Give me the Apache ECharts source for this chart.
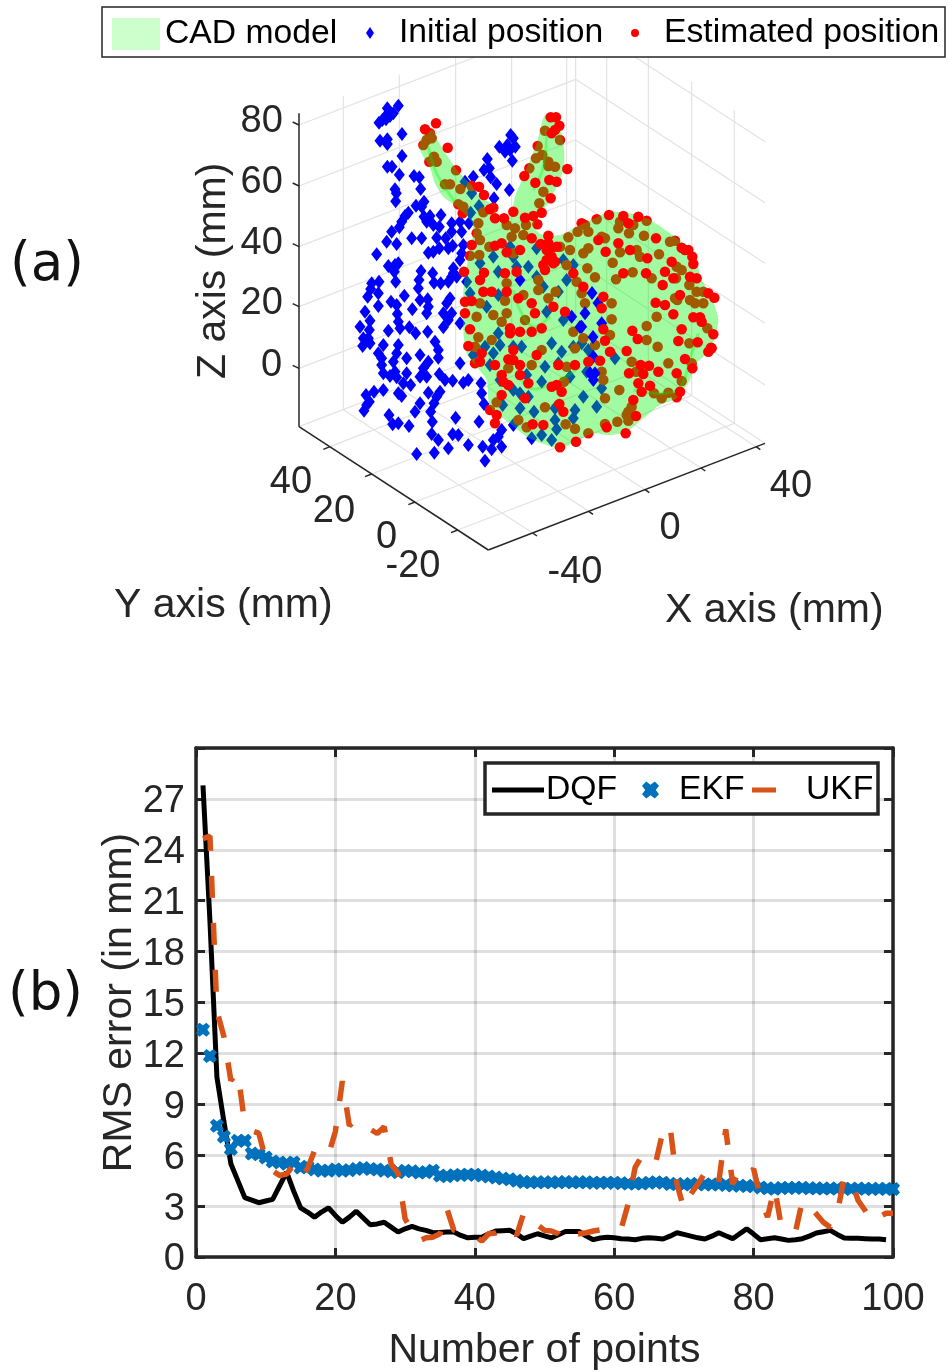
<!DOCTYPE html>
<html>
<head>
<meta charset="utf-8">
<title>Bunny registration</title>
<script src="https://cdn.jsdelivr.net/npm/echarts@6/dist/echarts.min.js"></script>
<style>
  html, body { margin: 0; padding: 0; background: #fff; }
  #chart { width: 948px; height: 1372px; }
</style>
</head>
<body>
<div id="chart"></div>
<script>
const initialBehind = [[355,47],[322,55],[340,70],[330,78],[318,88],[297,98],[307,90],[322,72],[366,132],[300,152],[322,148],[322,162],[366,198],[322,230],[336,230],[358,254],[402,258],[418,262],[422,297],[345,298],[349,310],[347,334],[432,335],[408,347],[425,350],[385,368],[375,378],[365,395],[358,412],[335,425],[350,462],[320,455],[395,445],[425,445],[290,493],[432,380],[450,378],[483,375],[440,395],[460,405],[478,410],[515,400],[540,395],[515,425],[545,425],[497,445],[470,443],[518,467],[505,475],[445,488],[460,485],[478,475],[550,465],[545,490],[325,528],[345,525],[355,520],[343,545],[347,575],[423,543],[458,550],[462,578],[482,580],[520,535],[515,560],[505,575],[530,560],[275,580],[297,575],[417,570],[415,595],[443,628],[272,597],[295,610],[263,620],[295,648],[373,617],[333,635],[350,645],[397,658],[420,630],[445,650],[510,625],[500,640],[490,670],[515,670],[505,690],[255,665],[352,672],[440,670],[355,695],[270,692],[240,710],[268,720],[325,722],[360,715],[388,712],[407,730],[443,725],[490,712],[540,700],[265,745],[250,745],[248,768],[270,760],[310,765],[355,765],[465,755],[295,790],[350,790],[420,795],[475,780],[475,803],[305,805],[340,815],[380,805],[445,815],[430,835],[345,845],[380,850],[305,825],[310,850],[330,858],[350,862],[370,880],[420,860],[440,860],[392,885],[478,852],[495,870],[518,872],[540,820],[550,878],[565,870],[603,880],[282,905],[310,900],[258,915],[268,935],[260,945],[252,962],[355,910],[365,918],[445,908],[480,905],[470,920],[462,940],[420,940],[605,910],[612,942],[405,965],[452,965],[327,975],[457,995],[338,1003],[355,1000],[387,1008],[527,983],[597,995],[455,1032],[475,1050],[518,1033],[535,1035],[565,1065],[505,1075],[608,1070],[635,1078],[640,1050],[655,1040],[665,1020],[665,1070],[410,1092],[463,1088],[615,1112],[692,135],[700,145],[658,170],[682,165],[706,170],[675,185],[690,180],[697,212],[622,207],[612,240],[628,235],[632,262],[650,282],[580,260],[688,300],[642,325],[555,275],[575,310],[597,348],[572,368],[567,400],[540,510],[520,550],[640,500],[600,520],[655,545],[710,530],[745,530],[770,560],[620,650],[560,575],[570,610],[790,590],[835,605],[860,570],[880,525],[850,510],[700,500],[770,475],[690,470],[655,615],[800,665],[850,690],[655,730],[725,770],[660,765],[615,770],[640,790],[700,770],[815,760],[845,785],[880,770],[905,760],[925,780],[1005,805],[580,795],[630,825],[795,830],[835,820],[870,860],[920,845],[785,875],[740,855],[660,870],[700,900],[720,910],[965,895],[745,920],[720,955],[762,965],[825,955],[885,960],[880,985],[910,920],[950,950],[825,990],[830,1018],[815,1050],[785,1035],[755,1045],[700,1005],[668,945]];
const initialFront = [[936,609],[954,639],[900,711],[939,741],[930,849],[720,570],[905,710],[875,680],[915,670],[965,700],[945,850],[940,870],[940,800]];
const estimatedBehind = [[450,130],[455,145],[440,150],[430,165],[462,200],[448,215],[470,215],[528,241],[495,283],[510,283],[541,297],[575,288],[535,343],[550,350],[548,370],[610,367],[640,353],[795,122],[840,150],[773,168],[787,195],[768,205],[805,215],[805,228],[825,230],[748,235],[790,305],[778,340],[1100,392],[950,388],[905,400],[915,405],[1020,395],[1015,415],[1060,405],[1047,430],[1092,437],[1170,455],[1185,452],[893,425],[865,442],[925,425],[965,440],[975,445],[1070,480],[1020,487],[1080,500],[1137,493],[1225,480],[1190,530],[1205,540],[998,518],[922,535],[945,562],[1058,547],[1008,568],[1115,565],[1188,565],[1228,585],[1250,605],[1270,605],[1185,625],[1192,630],[1230,630],[1245,640],[1270,640],[1130,680],[1100,708],[1282,715],[1100,750],[1228,760],[1133,770],[1295,775],[1235,820],[1165,820],[1055,815],[1068,845],[1205,873],[1018,900],[1122,910],[1165,908],[1190,922],[1145,925],[1055,950],[1045,965],[1040,975],[1045,992],[1012,995],[975,1002],[925,1030],[885,1016],[857,1003],[795,952],[740,1012],[975,925],[600,450],[590,430],[595,400],[680,405],[705,415],[695,440],[772,403],[738,405],[730,435],[870,480],[860,525],[840,470],[910,490],[925,475],[628,470],[598,495],[570,497],[700,490],[775,570],[890,575],[905,610],[805,625],[827,605],[775,600],[730,615],[680,580],[600,640],[590,680],[640,675],[680,670],[675,632],[735,690],[915,640],[995,640],[995,688],[990,735],[910,745],[880,725],[665,695],[595,742],[635,750],[585,770],[585,820],[685,835],[755,825],[785,780],[860,830],[965,845],[970,870],[885,775],[945,765],[852,875],[650,937],[630,960],[645,1000],[715,990]];
const estimatedFront = [[468,100],[435,118],[503,173],[597,290],[612,315],[630,358],[812,82],[828,82],[838,107],[825,120],[815,130],[862,237],[733,258],[766,278],[808,270],[830,275],[812,325],[987,375],[1075,380],[955,450],[1015,460],[1050,480],[1102,505],[1128,445],[1215,480],[1237,500],[1240,522],[977,485],[1030,550],[1155,545],[1180,565],[1098,550],[1250,565],[1230,560],[1148,585],[1127,638],[1155,645],[1180,673],[1200,615],[1303,623],[1285,610],[1260,682],[1240,682],[1265,695],[1205,718],[1300,733],[1057,722],[1073,747],[1195,753],[1253,757],[1293,773],[1285,785],[1215,807],[1237,835],[1040,783],[1082,825],[1107,827],[1047,850],[1090,852],[1135,845],[1190,850],[1075,880],[1110,887],[1085,905],[1200,905],[1060,930],[1068,978],[980,1012],[1037,1030],[888,1055],[965,655],[970,718],[975,752],[790,1005],[758,1003],[960,812],[840,1072],[838,942],[850,965],[552,545],[575,465],[612,548],[600,570],[555,635],[575,633],[555,670],[570,718],[565,768],[645,825],[600,815],[690,730],[690,715],[685,885],[670,875],[720,825],[700,810],[815,500],[810,480],[820,520],[830,470],[755,445],[782,462],[830,885],[845,905],[755,640],[765,670],[880,550],[910,590],[745,880],[720,855],[825,515],[805,437],[800,480],[800,510],[790,525],[795,540],[805,460],[680,487],[720,480],[645,467],[665,460],[645,385],[672,385],[700,365],[735,383],[760,378],[785,368],[675,550],[710,545],[610,605],[635,605],[680,605],[715,625],[820,650],[855,665],[785,715],[720,725],[755,725],[605,790],[700,780],[685,808],[770,795],[835,825],[885,825],[925,815],[970,620],[990,785],[665,855],[815,890],[665,915],[650,975],[735,925],[1030,378],[1045,400],[1205,473],[1175,515]];
const bunnyOutline = [[418,170],[430,135],[458,120],[475,155],[500,195],[535,245],[570,280],[600,320],[640,345],[655,380],[690,380],[705,320],[730,260],[770,160],[795,75],[830,80],[845,130],[853,190],[850,240],[830,290],[805,340],[780,370],[760,410],[790,435],[840,435],[890,410],[945,385],[985,365],[1050,370],[1110,390],[1170,430],[1215,465],[1250,520],[1265,570],[1290,610],[1305,650],[1315,690],[1305,740],[1290,780],[1245,825],[1230,870],[1190,925],[1140,945],[1090,985],[1040,1025],[985,1035],[940,1030],[880,1060],[840,1075],[800,1065],[740,1040],[690,1000],[630,950],[620,870],[590,830],[560,790],[550,720],[550,600],[565,500],[580,430],[575,395],[530,350],[490,320],[465,280],[450,235],[430,200]];
const bunnyCreases = [
  [[445,170],[470,250],[525,335]],
  [[800,120],[790,230],[760,300]],
  [[700,600],[720,660],[760,710],[810,680]],
  [[1255,730],[1235,790],[1190,900],[1060,900]],
  [[900,830],[820,880],[740,890],[700,780]]
];

// box corners, tick feet and tick labels of the 3D view
const boxHeight = 940;
const zTickFeet = [105, 288, 470, 650, 835];
const zTickLabels = ['80', '60', '40', '20', '0'];
const yTickFeet = [[150,1070],[275,1152],[405,1236],[533,1320]];
const yTickLabels = [['40',33,1179],['20',162,1266],['0',320,1344],['-20',399,1431]];
const xTickFeet = [[758,1329],[926,1264],[1095,1199],[1263,1134],[1428,1070]];
const xTickLabels = [['-40',885,1449],['0',1170,1317],['40',1533,1189]];
const axisEdges = [[57,70,57,1010],[57,1010,625,1380],[625,1380,1455,1060]];

// panel (b)
const pointCounts = Array.from({ length: 100 }, (_, i) => i + 1);
const dqfError = [27.8,19.8,10.6,8,5.5,4.5,3.5,3.35,3.2,3.3,3.4,4.2,5,3.9,2.9,2.65,2.35,2.65,2.9,2.45,2.05,2.35,2.7,2.3,1.9,1.95,2.05,1.76,1.47,1.66,1.8,1.66,1.57,1.43,1.45,1.47,1.47,1.27,1.13,1.17,1.17,1.37,1.53,1.55,1.57,1.37,1.08,1.23,1.37,1.25,1.13,1.31,1.5,1.5,1.5,1.23,1.02,1.12,1.17,1.13,1.08,1.06,1.02,1.1,1.13,1.1,1.06,1.23,1.43,1.33,1.23,1.13,1.06,1.23,1.43,1.25,1.08,1.37,1.66,1.35,1.02,1.08,1.13,1.06,0.98,1.02,1.08,1.23,1.41,1.49,1.57,1.33,1.12,1.1,1.1,1.08,1.06,1.06,1.02];
const ekfError = [13.4,11.84,7.73,7.1,6.36,6.85,6.85,6.1,6.05,5.87,5.63,5.57,5.5,5.57,5.28,5.32,5.16,5.09,5.09,5.16,5.09,5.12,5.18,5.24,5.18,5.16,5.09,5.05,5,5.08,5.05,4.98,5,5.09,4.8,4.76,4.82,4.84,4.85,4.85,4.8,4.75,4.68,4.62,4.58,4.5,4.42,4.4,4.4,4.4,4.4,4.4,4.42,4.4,4.4,4.4,4.38,4.38,4.38,4.38,4.35,4.33,4.33,4.33,4.38,4.4,4.38,4.3,4.3,4.27,4.3,4.3,4.28,4.28,4.28,4.25,4.22,4.2,4.18,4.17,4.1,4.05,4.02,4.07,4.07,4.08,4.08,4.05,4.05,4.03,4.03,4.03,4.02,4.01,4.03,4.02,4.01,4.02,4.01,4.01];
const ukfError = [24.66,24.8,14.5,13,10.4,10.9,7.83,7.44,7.3,5.77,5.09,4.8,4.89,5.44,4.7,5.2,6.26,6.3,6,7.4,10.37,7.73,8.12,7.87,7.53,7.28,7.67,5.48,4.93,2.25,1.57,0.94,1.13,1.17,1.37,2.84,1.57,1.47,1.37,1.23,0.94,1.37,1.41,1.6,1.8,1.27,2.58,2.58,1.9,1.57,1.53,1.37,0.94,1.37,1.37,1.43,1.53,1.6,1.53,1.57,1.66,3.13,5.28,5.97,6.16,5.64,7.44,7.79,4.3,2.84,3.72,4.3,4.93,5.13,4.4,7.53,4.3,5.09,4.74,5.19,3.46,2.35,4.11,1.76,1.6,1.47,3.33,2.97,2.54,2.05,1.76,2.58,4.7,4.54,3.33,2.74,2.05,2.35,2.58,2.58];

const TEXT_FONT = '"Liberation Sans", Arial, sans-serif';
const INK = '#262626';

// segments for the walls and floor of the box, built from the tick feet
const wireSegments = [];
zTickFeet.forEach((y) => {
    wireSegments.push([57, y, 887, y - 320], [887, y - 320, 1455, y + 50]);
});
yTickFeet.forEach(([x, y]) => {
    wireSegments.push([x, y, x + 830, y - 320], [x + 830, y - 320, x + 830, y - 320 - boxHeight]);
});
xTickFeet.forEach(([x, y]) => {
    wireSegments.push([x, y, x - 568, y - 370], [x - 568, y - 370, x - 568, y - 370 - boxHeight]);
});
wireSegments.push([57, 1010, 887, 690], [887, 690, 1455, 1060], [887, 690, 887, 690 - boxHeight]);

const tickSegments = [];
zTickFeet.forEach((y) => tickSegments.push([57, y, 38, y - 9]));
yTickFeet.forEach(([x, y]) => tickSegments.push([x, y, x - 20, y + 8]));
xTickFeet.forEach(([x, y]) => tickSegments.push([x, y, x + 13, y + 9]));

const segmentSeries = (data, color, width) => ({
    type: 'custom',
    coordinateSystem: 'cartesian2d',
    xAxisIndex: 0,
    yAxisIndex: 0,
    silent: true,
    clip: false,
    z: 1,
    data,
    encode: { x: [0, 2], y: [1, 3] },
    renderItem: (params, api) => {
        const a = api.coord([api.value(0), api.value(1)]);
        const b = api.coord([api.value(2), api.value(3)]);
        return {
            type: 'line',
            shape: { x1: a[0], y1: a[1], x2: b[0], y2: b[1] },
            style: { stroke: color, lineWidth: width, fill: null },
        };
    },
});

const labelSeries = (data, size) => ({
    type: 'scatter',
    xAxisIndex: 0,
    yAxisIndex: 0,
    silent: true,
    symbolSize: 0,
    z: 1,
    data,
    itemStyle: { opacity: 1 },
    label: {
        show: true,
        position: 'inside',
        formatter: (p) => p.value[2],
        fontFamily: TEXT_FONT,
        fontSize: size,
        color: INK,
    },
});

const viewScatter = (name, data, symbol, size, color, z) => ({
    name,
    type: 'scatter',
    xAxisIndex: 0,
    yAxisIndex: 0,
    symbol,
    symbolSize: size,
    z,
    itemStyle: { color, opacity: 1 },
    data,
});

const chart = echarts.init(document.getElementById('chart'));

chart.setOption({
    animation: false,
    backgroundColor: '#fff',
    grid: [
        { left: 0, top: 0, width: 948, height: 660 },
        { left: 196, top: 748, width: 697, height: 512 },
    ],
    xAxis: [
        { gridIndex: 0, type: 'value', min: -840, max: 2004, show: false },
        {
            gridIndex: 1, type: 'value', min: 0, max: 100, interval: 20,
            name: 'Number of points', nameLocation: 'middle', nameGap: 73, nameMoveOverlap: false,
            nameTextStyle: { fontFamily: TEXT_FONT, fontSize: 41, color: INK },
            axisLine: { onZero: false, lineStyle: { color: INK, width: 3.5 } },
            axisTick: { inside: true, length: 9, lineStyle: { color: INK, width: 3 } },
            axisLabel: { fontFamily: TEXT_FONT, fontSize: 38, color: INK, margin: 24 },
            splitLine: { show: true, lineStyle: { color: 'rgba(38,38,38,0.15)', width: 3 } },
        },
        {
            gridIndex: 1, type: 'value', min: 0, max: 100, interval: 20, position: 'top',
            axisLine: { onZero: false, lineStyle: { color: INK, width: 3.5 } },
            axisTick: { inside: true, length: 9, lineStyle: { color: INK, width: 3 } },
            axisLabel: { show: false },
            splitLine: { show: false },
        },
    ],
    yAxis: [
        { gridIndex: 0, type: 'value', min: -270, max: 1710, inverse: true, show: false },
        {
            gridIndex: 1, type: 'value', min: 0, max: 30, interval: 3,
            name: 'RMS error (in mm)', nameLocation: 'middle', nameGap: 56, nameMoveOverlap: false,
            nameTextStyle: { fontFamily: TEXT_FONT, fontSize: 41, color: INK },
            axisLine: { onZero: false, lineStyle: { color: INK, width: 3.5 } },
            axisTick: { inside: true, length: 9, lineStyle: { color: INK, width: 3 } },
            axisLabel: {
                fontFamily: TEXT_FONT, fontSize: 38, color: INK, margin: 11,
                verticalAlign: 'top', lineHeight: 6,
                formatter: (v) => (v === 30 ? '' : String(v)),
            },
            splitLine: { show: true, lineStyle: { color: 'rgba(38,38,38,0.15)', width: 3 } },
        },
        {
            gridIndex: 1, type: 'value', min: 0, max: 30, interval: 3, position: 'right',
            axisLine: { onZero: false, lineStyle: { color: INK, width: 3.5 } },
            axisTick: { inside: true, length: 9, lineStyle: { color: INK, width: 3 } },
            axisLabel: { show: false },
            splitLine: { show: false },
        },
    ],
    legend: [
        {
            left: 112, top: 17, padding: 0, itemWidth: 48, itemHeight: 32, selectedMode: false, z: 20,
            textStyle: { fontFamily: TEXT_FONT, fontSize: 33.7, color: '#000', padding: [2, 0, 0, 0] },
            data: [{ name: 'CAD model', icon: 'rect', itemStyle: { color: '#ccffcc' } }],
        },
        {
            left: 366, top: 16, padding: 0, itemWidth: 8, itemHeight: 12, selectedMode: false, z: 20,
            textStyle: { fontFamily: TEXT_FONT, fontSize: 33.7, color: '#000', padding: [2, 0, 0, 20] },
            data: [{ name: 'Initial position', icon: 'diamond' }],
        },
        {
            left: 631, top: 16, padding: 0, itemWidth: 8, itemHeight: 8, selectedMode: false, z: 20,
            textStyle: { fontFamily: TEXT_FONT, fontSize: 33.7, color: '#000', padding: [2, 0, 0, 20] },
            data: [{ name: 'Estimated position', icon: 'circle' }],
        },
        {
            left: 492, top: 773, padding: 0, itemWidth: 52, itemHeight: 5, selectedMode: false, z: 20,
            textStyle: { fontFamily: TEXT_FONT, fontSize: 33.7, color: '#000', padding: [6, 0, 0, -3] },
            data: [{ name: 'DQF', icon: 'rect', itemStyle: { color: '#000' } }],
        },
        {
            left: 642, top: 773, padding: 0, itemWidth: 17, itemHeight: 17, selectedMode: false, z: 20,
            textStyle: { fontFamily: TEXT_FONT, fontSize: 33.7, color: '#000', padding: [6, 0, 0, 15] },
            data: [{ name: 'EKF' }],
        },
        {
            left: 752, top: 773, padding: 0, itemWidth: 24, itemHeight: 5, selectedMode: false, z: 20,
            textStyle: { fontFamily: TEXT_FONT, fontSize: 33.7, color: '#000', padding: [6, 0, 0, 25] },
            data: [{ name: 'UKF', icon: 'rect', itemStyle: { color: '#D95319' } }],
        },
    ],
    graphic: [
        { type: 'rect', z: 15, shape: { x: 102, y: 7, width: 843, height: 50 }, style: { fill: '#fff', stroke: INK, lineWidth: 1.5 } },
        { type: 'rect', z: 15, shape: { x: 485, y: 763, width: 393, height: 51 }, style: { fill: '#fff', stroke: INK, lineWidth: 3.5 } },
        { type: 'text', z: 15, x: 10, y: 240, style: { text: '(a)', font: '53px "DejaVu Sans"', fill: '#111' } },
        { type: 'text', z: 15, x: 8, y: 970, style: { text: '(b)', font: '53px "DejaVu Sans"', fill: '#111' } },
        { type: 'text', z: 15, x: 114, y: 585, style: { text: 'Y axis (mm)', font: '41px "Liberation Sans"', fill: INK } },
        { type: 'text', z: 15, x: 665, y: 590, style: { text: 'X axis (mm)', font: '41px "Liberation Sans"', fill: INK } },
        { type: 'text', z: 15, x: 193, y: 379, rotation: Math.PI / 2, style: { text: 'Z axis (mm)', font: '41px "Liberation Sans"', fill: INK } },
    ],
    series: [
        segmentSeries(wireSegments, '#e3e3e3', 1.2),
        segmentSeries(axisEdges, INK, 1.5),
        segmentSeries(tickSegments, INK, 1.5),
        labelSeries(zTickFeet.map((y, i) => [-55 + (2 - zTickLabels[i].length) * 30, y - 9, zTickLabels[i]]), 38),
        labelSeries(yTickLabels.map(([t, x, y]) => [x, y, t]), 38),
        labelSeries(xTickLabels.map(([t, x, y]) => [x, y, t]), 38),
        viewScatter('Initial position', initialBehind, 'diamond', [11, 14], '#0000ff', 2),
        viewScatter('Estimated position', estimatedBehind, 'circle', 10.5, '#ff0000', 3),
        {
            name: 'CAD model',
            type: 'custom',
            coordinateSystem: 'cartesian2d',
            xAxisIndex: 0,
            yAxisIndex: 0,
            silent: true,
            clip: false,
            z: 4,
            data: [[0, 0]],
            itemStyle: { color: '#ccffcc' },
            renderItem: (params, api) => ({
                type: 'group',
                children: [{
                    type: 'polygon',
                    shape: { points: bunnyOutline.map((p) => api.coord(p)), smooth: 0.25 },
                    style: { fill: 'rgba(0,245,0,0.37)', stroke: null },
                }].concat(bunnyCreases.map((c) => ({
                    type: 'polyline',
                    shape: { points: c.map((p) => api.coord(p)), smooth: 0.4 },
                    style: { fill: null, stroke: 'rgba(0,245,0,0.3)', lineWidth: 3 },
                }))),
            }),
        },
        viewScatter('Initial position', initialFront, 'diamond', [11, 14], '#0000ff', 5),
        viewScatter('Estimated position', estimatedFront, 'circle', 10.5, '#ff0000', 6),
        {
            name: 'DQF', type: 'line', xAxisIndex: 1, yAxisIndex: 1, showSymbol: false, z: 3,
            lineStyle: { color: '#000', width: 5 },
            itemStyle: { color: '#000' },
            data: dqfError.map((v, i) => [pointCounts[i], v]),
        },
        {
            name: 'EKF', type: 'scatter', xAxisIndex: 1, yAxisIndex: 1, z: 4,
            symbol: 'path://M4 0 L8 3 L12 0 L16 4 L13 8 L16 12 L12 16 L8 13 L4 16 L0 12 L3 8 L0 4 Z',
            symbolSize: 14,
            itemStyle: { color: '#0072BD', opacity: 1 },
            data: pointCounts.map((x, i) => [x, ekfError[i]]),
        },
        {
            name: 'UKF', type: 'line', xAxisIndex: 1, yAxisIndex: 1, showSymbol: false, z: 5,
            lineStyle: { color: '#D95319', width: 5.5, type: [22, 25], cap: 'butt' },
            itemStyle: { color: '#D95319' },
            data: pointCounts.map((x, i) => [x, ukfError[i]]),
        },
    ],
});
</script>
</body>
</html>
